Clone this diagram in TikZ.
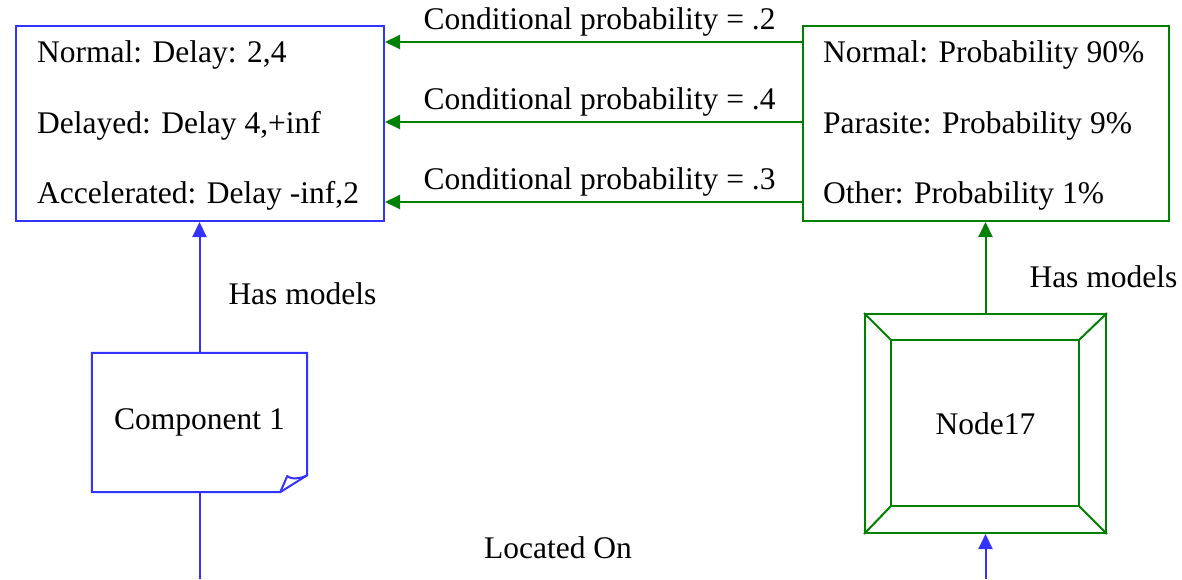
\documentclass[tikz,border=0pt]{standalone}
\usepackage{fontspec}
\IfFontExistsTF{LiberationSerif-Regular.ttf}
  {\newfontfamily\diagfont{LiberationSerif-Regular.ttf}}
  {\IfFontExistsTF{TeX Gyre Termes}
    {\newfontfamily\diagfont{TeX Gyre Termes}}
    {\newfontfamily\diagfont{Liberation Serif}}}
\usetikzlibrary{arrows.meta, positioning, calc}
\definecolor{modelblue}{RGB}{51,51,255}
\definecolor{modelgreen}{RGB}{0,128,0}

\begin{document}
\begin{tikzpicture}[
    x=1pt, y=-1pt,
    txt/.style={inner sep=0pt, text=black, font=\diagfont\fontsize{31.5}{38}\selectfont},
    bluebox/.style={rectangle, draw=modelblue, line width=2pt, inner sep=0pt},
    greenbox/.style={rectangle, draw=modelgreen, line width=2pt, inner sep=0pt},
    bluearr/.style={-{Triangle[length=15pt, width=14pt]}, line width=2pt, modelblue},
    greenarr/.style={-{Triangle[length=15pt, width=14pt]}, line width=2pt, modelgreen},
]
    \useasboundingbox (0,0) rectangle (1182,579);

    % model boxes
    \node[bluebox, anchor=north west, minimum width=368pt, minimum height=195pt] (delays) at (15,25) {};
    \node[txt, anchor=base west] (dnormal) at (37,62) {Normal: Delay: 2,4};
    \node[txt, anchor=base west] (ddelayed) at (37,133) {Delayed: Delay 4,+inf};
    \node[txt, anchor=base west] (daccel) at (37,203) {Accelerated: Delay -inf,2};

    \node[greenbox, anchor=north west, minimum width=366pt, minimum height=195pt] (probs) at (802,25) {};
    \node[txt, anchor=base west] (pnormal) at (823,62) {Normal: Probability 90\%};
    \node[txt, anchor=base west] (pparasite) at (823,133) {Parasite: Probability 9\%};
    \node[txt, anchor=base west] (pother) at (823,203) {Other: Probability 1\%};

    % component with folded corner
    \node[txt, minimum width=215pt, minimum height=139pt] (comp) at (199.5,422.5) {Component 1};
    \draw[modelblue, line width=2pt, line join=miter]
        (comp.north west) -- (comp.north east) -- ($(comp.south east)+(0,-17)$)
        -- ($(comp.south east)+(-27,0)$) -- (comp.south west) -- cycle;
    \draw[modelblue, line width=2pt]
        ($(comp.south east)+(-27,0)$) -- ($(comp.south east)+(-20,-16)$)
        .. controls ($(comp.south east)+(-17,-13)$) and ($(comp.south east)+(-7,-13)$) .. ($(comp.south east)+(0,-17)$);

    % bevelled node
    \node[greenbox, txt, minimum width=241pt, minimum height=219pt] (node17) at (985.5,423.5) {Node17};
    \draw[modelgreen, line width=2pt]
        ($(node17.north west)+(27,27)$) rectangle ($(node17.south east)+(-28,-28)$);
    \draw[modelgreen, line width=2pt]
        (node17.north west) -- ++(27,27)
        (node17.north east) -- ++(-28,27)
        (node17.south west) -- ++(27,-28)
        (node17.south east) -- ++(-28,-28);

    % conditional probabilities
    \draw[greenarr] (probs.west |- 0,42) -- (delays.east |- 0,42)
        node[txt, midway, above=5pt, xshift=6pt] (cond1) {Conditional probability = .2};
    \draw[greenarr] (probs.west |- 0,122) -- (delays.east |- 0,122)
        node[txt, midway, above=5pt, xshift=6pt] (cond2) {Conditional probability = .4};
    \draw[greenarr] (probs.west |- 0,202) -- (delays.east |- 0,202)
        node[txt, midway, above=5pt, xshift=6pt] (cond3) {Conditional probability = .3};

    % has models
    \draw[bluearr] (comp.north) -- (comp.north |- delays.south)
        node[txt, pos=0.45, right=28pt] (hasc) {Has models};
    \draw[greenarr] (node17.north) -- (node17.north |- probs.south)
        node[txt, pos=0.4, right=43pt] (hasn) {Has models};

    % located on
    \coordinate (compbot) at (comp.south |- 0,579);
    \coordinate (nodebot) at (node17.south |- 0,579);
    \draw[modelblue, line width=2pt] (comp.south) -- (compbot);
    \draw[bluearr] (nodebot) -- (node17.south);
    \node[txt, anchor=base] (located) at (558,558) {Located On};
\end{tikzpicture}
\end{document}
